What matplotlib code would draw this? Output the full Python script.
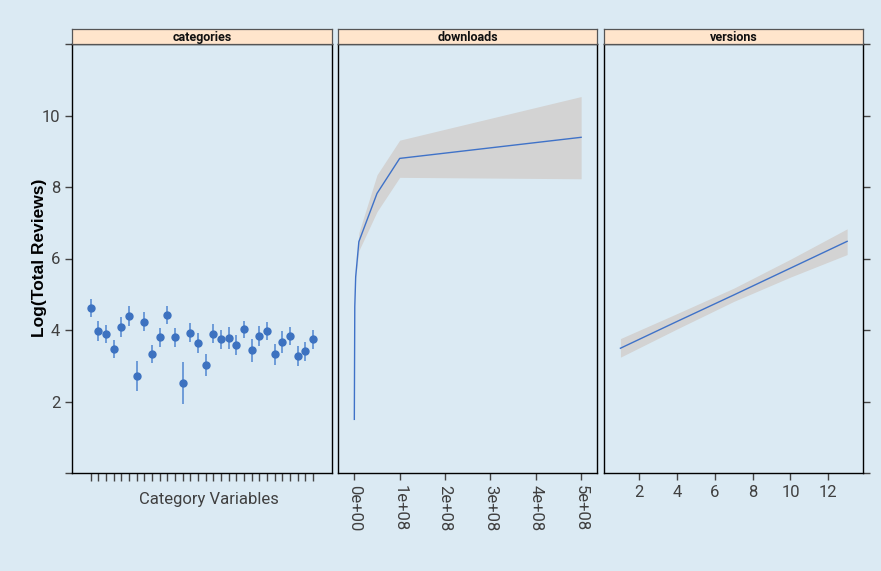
import numpy as np
import matplotlib
matplotlib.use("Agg")
import matplotlib.pyplot as plt

# -----------------------------
# Data
# -----------------------------
cat_fit = [4.62, 3.98, 3.88, 3.47, 4.07, 4.40, 2.72, 4.23, 3.32, 3.80,
           4.43, 3.80, 2.53, 3.93, 3.65, 3.03, 3.90, 3.74, 3.79, 3.58,
           4.02, 3.43, 3.83, 3.98, 3.33, 3.66, 3.84, 3.28, 3.41, 3.74]
cat_upper = [4.88, 4.24, 4.13, 3.72, 4.35, 4.67, 3.14, 4.50, 3.57, 4.06,
             4.68, 4.06, 3.11, 4.20, 3.92, 3.33, 4.16, 3.99, 4.09, 3.85,
             4.25, 3.75, 4.10, 4.22, 3.62, 3.97, 4.08, 3.55, 3.67, 4.00]
cat_lower = [4.35, 3.70, 3.63, 3.21, 3.80, 4.11, 2.30, 3.96, 3.08, 3.53,
             4.17, 3.53, 1.94, 3.67, 3.37, 2.71, 3.64, 3.48, 3.47, 3.31,
             3.78, 3.11, 3.56, 3.72, 3.03, 3.35, 3.59, 3.00, 3.14, 3.48]

dl_x = [0, 1e6, 3e6, 1e7, 5e7, 1e8, 5e8]
dl_fit = [1.50, 4.65, 5.49, 6.47, 7.82, 8.80, 9.39]
band_x = [3e6, 1e7, 5e7, 1e8, 5e8]
band_lo = [5.45, 6.22, 7.31, 8.27, 8.23]
band_hi = [5.55, 6.72, 8.34, 9.31, 10.53]

ver_x = [1, 4, 7, 10, 13]
ver_fit = [3.49, 4.24, 4.98, 5.73, 6.48]
ver_lo = [3.24, 4.03, 4.80, 5.48, 6.11]
ver_hi = [3.76, 4.46, 5.17, 5.98, 6.83]

panel_names = ["categories", "downloads", "versions"]
y_ticks = [0, 2, 4, 6, 8, 10, 12]
y_labels = ["", "2", "4", "6", "8", "10", ""]

# -----------------------------
# Style
# -----------------------------
bg = "#dbeaf3"
strip_col = "#ffe5cc"
pt_col = "#3d72c0"
bar_col = "#6e9bd8"
line_col = "#3f72c8"
band_col = "#d3d3d3"
txt_col = "#404040"

plt.rcParams['font.family'] = ['Roboto', 'DejaVu Sans']

W, H = 881, 571
fig = plt.figure(figsize=(W / 100, H / 100), dpi=100, facecolor=bg)

top_px, bot_px = 44, 473
panels_px = [(72, 332), (338, 597), (604, 863)]


def frac_box(x0, x1, y_top, y_bot):
    return [x0 / W, (H - y_bot) / H, (x1 - x0) / W, (y_bot - y_top) / H]


axes = []
for i, (x0, x1) in enumerate(panels_px):
    ax = fig.add_axes(frac_box(x0, x1, top_px, bot_px))
    ax.set_facecolor(bg)
    ax.set_ylim(0, 12)
    for s in ax.spines.values():
        s.set_color("black")
        s.set_linewidth(1.0)
    ax.tick_params(axis="both", colors="#444444", labelcolor=txt_col,
                   labelsize=12, length=5, width=1)
    ax.set_yticks(y_ticks)
    if i == 0:
        ax.set_yticklabels(y_labels)
        ax.tick_params(axis="y", left=True, right=False, labelleft=True)
    elif i == 2:
        ax.tick_params(axis="y", left=False, right=True, labelleft=False,
                       labelright=False)
    else:
        ax.tick_params(axis="y", left=False, right=False, labelleft=False)
    axes.append(ax)

    # strip on top
    sax = fig.add_axes(frac_box(x0, x1, 29, top_px))
    sax.set_facecolor(strip_col)
    sax.set_xticks([])
    sax.set_yticks([])
    for s in sax.spines.values():
        s.set_color("#555555")
        s.set_linewidth(0.9)
    sax.text(0.5, 0.45, panel_names[i], transform=sax.transAxes,
             ha="center", va="center", fontsize=9, fontweight="bold",
             family=["Liberation Sans Narrow", "Roboto"], color="#111111")

# categories panel
ax = axes[0]
xs = np.arange(1, len(cat_fit) + 1)
ax.vlines(xs, cat_lower, cat_upper, color=bar_col, linewidth=1.4)
ax.plot(xs, cat_fit, "o", color=pt_col, markersize=5)
ax.set_xlim(-1.44, 32.48)
ax.set_xticks(xs)
ax.set_xticklabels([])
ax.tick_params(axis="x", length=6)
ax.set_xlabel("Category Variables", fontsize=12, color=txt_col)
ax.xaxis.set_label_coords(0.525, -0.045)

# downloads panel
ax = axes[1]
ax.fill_between(band_x, band_lo, band_hi, color=band_col, linewidth=0)
ax.plot(dl_x, dl_fit, color=line_col, linewidth=1.0)
ax.set_xlim(-0.36e8, 5.35e8)
dl_ticks = [0, 1e8, 2e8, 3e8, 4e8, 5e8]
ax.set_xticks(dl_ticks)
ax.set_xticklabels(["0e+00", "1e+08", "2e+08", "3e+08", "4e+08", "5e+08"],
                   rotation=270, va="top", ha="center")

# versions panel
ax = axes[2]
ax.fill_between(ver_x, ver_lo, ver_hi, color=band_col, linewidth=0)
ax.plot(ver_x, ver_fit, color=line_col, linewidth=1.0)
ax.set_xlim(0.13, 13.84)
ax.set_xticks([2, 4, 6, 8, 10, 12])

fig.text(40 / W, (H - 258) / H, "Log(Total Reviews)", rotation=90,
         ha="center", va="center", fontsize=12.5, fontweight="bold",
         family=["Liberation Sans", "DejaVu Sans"], color="black")

fig.savefig("out.png", dpi=100, facecolor=bg)
